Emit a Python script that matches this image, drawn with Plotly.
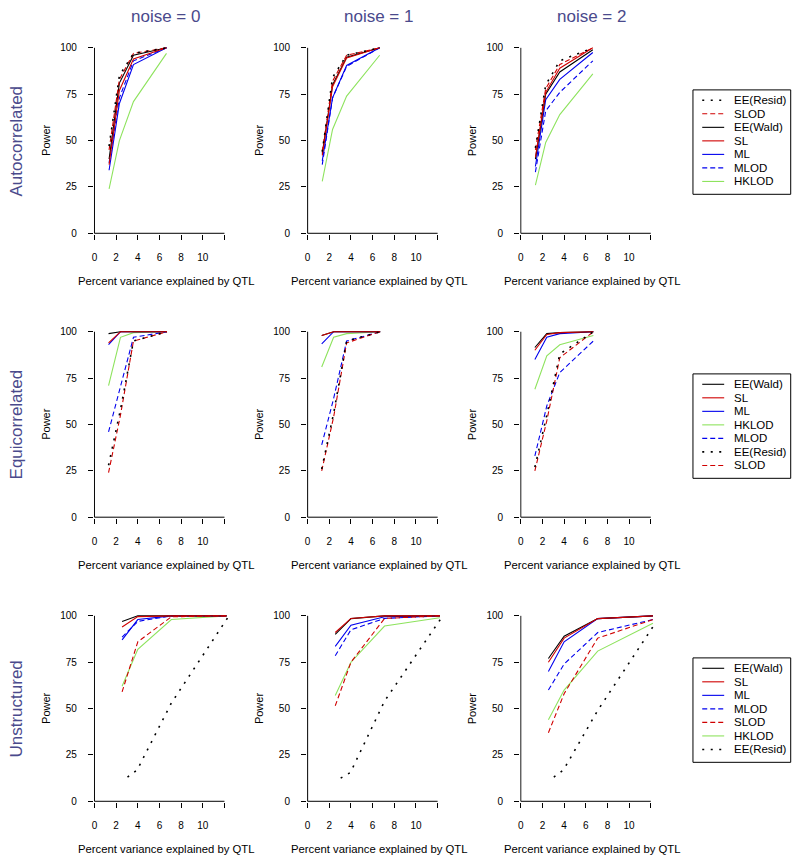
import plotly.graph_objects as go

# ---------------- data ----------------
noise_levels = ["noise = 0", "noise = 1", "noise = 2"]
structures = ["Autocorrelated", "Equicorrelated", "Unstructured"]
x_ticks = [0, 2, 4, 6, 8, 10, 12]
x_tick_text = ["0", "2", "4", "6", "8", "10", ""]
y_ticks = [0, 25, 50, 75, 100]

# percent variance explained by QTL (x positions)
pve_auto = [1.35, 2.3, 3.6, 6.65]
pve_equi = [1.3, 2.4, 3.6, 6.7]
pve_unstr = [2.55, 4.0, 7.1, 12.2]
pve_unstr_resid = [3.05, 3.95, 7.1, 12.3]

# power; each list holds noise = 0, 1, 2
auto_ee_resid = [[47, 85, 97, 100], [44, 84, 96, 100], [46, 80, 93, 100]]
auto_slod = [[45, 83, 97, 100], [44, 82, 96, 100], [45, 78, 91, 100]]
auto_ee_wald = [[40, 81, 96, 100], [43, 80, 95, 100], [40, 75, 87, 99]]
auto_sl = [[37, 77, 94, 100], [42, 79, 94.5, 100], [41, 76, 89, 100]]
auto_ml = [[34, 70, 91, 100], [39, 73, 90.5, 100], [36, 72, 83, 97.5]]
auto_mlod = [[38, 73, 93, 100], [37, 73, 90, 100], [33, 66, 76, 93]]
auto_hklod = [[24, 50, 71, 97], [28, 56, 74, 96], [26, 49, 64, 86]]

equi_ee_wald = [[99, 100, 100, 100], [98, 100, 100, 100], [91.5, 99, 99.5, 100]]
equi_sl = [[94, 100, 100, 100], [98, 100, 100, 100], [90, 98.5, 99.5, 100]]
equi_ml = [[93, 100, 100, 100], [93.5, 100, 100, 100], [85, 97, 99, 100]]
equi_hklod = [[71, 97, 99.5, 100], [81, 97, 99, 100], [69, 87, 93, 98]]
equi_mlod = [[46, 70, 97, 100], [39, 64, 95, 100], [33, 60, 78, 95]]
equi_ee_resid = [[28, 58, 95, 100], [26, 56, 95, 100], [27, 55, 88, 100]]
equi_slod = [[24, 55, 95, 100], [25, 54, 94, 100], [25, 52, 86, 100]]

unstr_ee_wald = [[97, 100, 100, 100], [90, 98.5, 100, 100], [77, 89, 98.5, 100]]
unstr_sl = [[94, 99.6, 100, 100], [91, 98.6, 100, 100], [75, 88, 98.5, 100]]
unstr_ml = [[87, 98, 100, 100], [83.5, 95, 99.5, 100], [70, 86, 98.5, 100]]
unstr_mlod = [[88.5, 97, 100, 100], [78.5, 92.5, 98.6, 100], [60, 74, 91, 98]]
unstr_slod = [[59, 86, 99.5, 100], [51.5, 75, 98.6, 100], [37, 58, 88, 98]]
unstr_hklod = [[62, 82, 98, 100], [57, 75, 94.5, 99], [44, 60, 81, 96]]
unstr_ee_resid = [[13, 17, 53, 99], [12.5, 15.5, 54, 98.5], [13, 17, 49, 95]]

# legend order for each row
legend_auto = ["EE(Resid)", "SLOD", "EE(Wald)", "SL", "ML", "MLOD", "HKLOD"]
legend_equi = ["EE(Wald)", "SL", "ML", "HKLOD", "MLOD", "EE(Resid)", "SLOD"]
legend_unstr = ["EE(Wald)", "SL", "ML", "MLOD", "SLOD", "HKLOD", "EE(Resid)"]

# ---------------- assemble ----------------
rows = [
    {"EE(Resid)": (pve_auto, auto_ee_resid), "SLOD": (pve_auto, auto_slod),
     "EE(Wald)": (pve_auto, auto_ee_wald), "SL": (pve_auto, auto_sl),
     "ML": (pve_auto, auto_ml), "MLOD": (pve_auto, auto_mlod),
     "HKLOD": (pve_auto, auto_hklod)},
    {"EE(Resid)": (pve_equi, equi_ee_resid), "SLOD": (pve_equi, equi_slod),
     "EE(Wald)": (pve_equi, equi_ee_wald), "SL": (pve_equi, equi_sl),
     "ML": (pve_equi, equi_ml), "MLOD": (pve_equi, equi_mlod),
     "HKLOD": (pve_equi, equi_hklod)},
    {"EE(Resid)": (pve_unstr_resid, unstr_ee_resid), "SLOD": (pve_unstr, unstr_slod),
     "EE(Wald)": (pve_unstr, unstr_ee_wald), "SL": (pve_unstr, unstr_sl),
     "ML": (pve_unstr, unstr_ml), "MLOD": (pve_unstr, unstr_mlod),
     "HKLOD": (pve_unstr, unstr_hklod)},
]
legends = [legend_auto, legend_equi, legend_unstr]

RED = "#d00000"
BLUE = "#0000ee"
GREEN = "#8ee35e"
DOT = "2px,6.5px"
DASH = "5px,3px"
style = {
    "EE(Resid)": dict(color="black", dash=DOT, width=1.6),
    "SLOD": dict(color=RED, dash=DASH, width=1.1),
    "EE(Wald)": dict(color="black", dash="solid", width=1.1),
    "SL": dict(color=RED, dash="solid", width=1.1),
    "ML": dict(color=BLUE, dash="solid", width=1.1),
    "MLOD": dict(color=BLUE, dash=DASH, width=1.1),
    "HKLOD": dict(color=GREEN, dash="solid", width=1.1),
}
draw_order = ["HKLOD", "ML", "MLOD", "EE(Wald)", "SL", "SLOD", "EE(Resid)"]

W, H = 794, 862
FONT = "Liberation Sans, Arial, sans-serif"
TITLE_COLOR = "#4a4a8c"
col_x0 = [92.7, 306.4, 520.1]      # pixel position of x = 0
row_y100 = [44.3, 331.2, 618.3]    # pixel position of power = 100
PX_X = 10.86
PX_Y = 1.874
XR = [-0.06, 13.2]
YR = [-0.5, 101.0]

fig = go.Figure()
shapes = []
annotations = []
layout_axes = {}

for r in range(3):
    for c in range(3):
        n = r * 3 + c + 1
        sfx = "" if n == 1 else str(n)
        xa, ya = "x" + sfx, "y" + sfx
        left = col_x0[c] + XR[0] * PX_X
        right = col_x0[c] + XR[1] * PX_X
        top = row_y100[r] - (YR[1] - 100) * PX_Y
        bottom = row_y100[r] + (100 - YR[0]) * PX_Y
        layout_axes["xaxis" + sfx] = dict(
            domain=[left / W, right / W], range=XR, anchor=ya,
            tickvals=x_ticks, ticktext=x_tick_text, ticks="outside",
            ticklen=5, tickwidth=1, tickcolor="black", showgrid=False,
            zeroline=False, showline=False, ticklabelstandoff=9,
            tickfont=dict(family=FONT, size=10, color="black"), fixedrange=True)
        layout_axes["yaxis" + sfx] = dict(
            domain=[1 - bottom / H, 1 - top / H], range=YR, anchor=xa,
            tickvals=y_ticks, ticks="outside", ticklen=5, tickwidth=1,
            tickcolor="black", showgrid=False, zeroline=False, showline=False,
            ticklabelstandoff=9,
            tickfont=dict(family=FONT, size=10, color="black"), fixedrange=True)
        shapes.append(dict(type="line", xref=xa, yref=ya, x0=0, x1=12, y0=0, y1=0,
                           line=dict(color="black", width=1)))
        shapes.append(dict(type="line", xref=xa, yref=ya, x0=0, x1=0, y0=0, y1=100,
                           line=dict(color="black", width=1)))
        for m in draw_order:
            xs, vals = rows[r][m]
            st = style[m]
            fig.add_trace(go.Scatter(
                x=xs, y=vals[c], mode="lines", name=m, showlegend=False,
                hoverinfo="skip", xaxis=xa, yaxis=ya,
                line=dict(color=st["color"], dash=st["dash"], width=st["width"])))
        annotations.append(dict(
            text="Power", xref=xa + " domain", yref=ya + " domain", x=0, y=0.5,
            xshift=-48, textangle=-90, showarrow=False, xanchor="center",
            yanchor="middle", font=dict(family=FONT, size=11, color="black")))
        annotations.append(dict(
            text="Percent variance explained by QTL", xref=xa + " domain",
            yref=ya + " domain", x=0.5, y=0, yshift=-46.5, showarrow=False,
            xanchor="center", yanchor="middle",
            font=dict(family=FONT, size=11.3, color="black")))
        if r == 0:
            cx = (left + right) / 2
            annotations.append(dict(
                text=noise_levels[c], xref="paper", yref="paper", x=cx / W,
                y=1 - 12.5 / H, showarrow=False, xanchor="center", yanchor="middle",
                font=dict(family=FONT, size=17, color=TITLE_COLOR)))
    cy = (row_y100[r] + row_y100[r] + 100 * PX_Y) / 2
    annotations.append(dict(
        text=structures[r], xref="paper", yref="paper", x=15 / W, y=1 - cy / H,
        textangle=-90, showarrow=False, xanchor="center", yanchor="middle",
        font=dict(family=FONT, size=17, color=TITLE_COLOR)))

# legends (one box per row)
LEG_LEFT, LEG_RIGHT = 692.7, 790.7
LEG_STEP = 13.67
leg_first = [97.3, 384.3, 671.3]
for r in range(3):
    y_first = leg_first[r]
    n_items = len(legends[r])
    box_top = y_first - 10.5
    box_bottom = y_first + (n_items - 1) * LEG_STEP + 13.0
    shapes.append(dict(type="rect", xref="paper", yref="paper",
                       x0=LEG_LEFT / W, x1=LEG_RIGHT / W,
                       y0=1 - box_bottom / H, y1=1 - box_top / H,
                       line=dict(color="black", width=1), fillcolor="white",
                       layer="below"))
    for i, m in enumerate(legends[r]):
        yy = y_first + i * LEG_STEP
        st = style[m]
        shapes.append(dict(type="line", xref="paper", yref="paper",
                           x0=702 / W, x1=724 / W, y0=1 - yy / H, y1=1 - yy / H,
                           line=dict(color=st["color"], dash=st["dash"],
                                     width=st["width"])))
        annotations.append(dict(
            text=m, xref="paper", yref="paper", x=732 / W, y=1 - yy / H,
            showarrow=False, xanchor="left", yanchor="middle",
            font=dict(family=FONT, size=11.5, color="black")))

fig.update_layout(
    width=W, height=H, margin=dict(l=0, r=0, t=0, b=0),
    paper_bgcolor="white", plot_bgcolor="white", showlegend=False,
    shapes=shapes, annotations=annotations, **layout_axes)

fig.write_html(
    "out.html",
    config={"displayModeBar": False, "staticPlot": True},
    post_script="document.body.style.margin='0px';"
                "document.documentElement.style.overflow='hidden';"
                "document.body.style.overflow='hidden';")
